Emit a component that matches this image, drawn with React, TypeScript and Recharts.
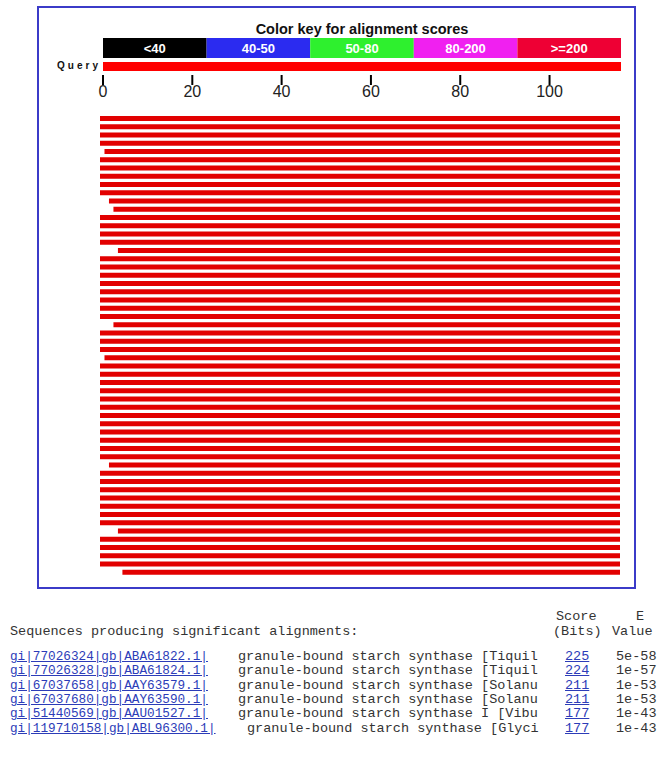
import { Bar, BarChart, LabelList, XAxis, YAxis } from 'recharts'

// color key
const keyLabels = ['<40', '40-50', '50-80', '80-200', '>=200']
const keyColors = ['#000000', '#2b2bf0', '#2ef02e', '#f020f0', '#ee0034']
const keyWidths = [1, 1, 1, 1, 1]

// query axis
const queryLabel = 'Query'
const queryLength = 116
const axisTicks = [0, 20, 40, 60, 80, 100]

// hit rows, top to bottom: start / end on the query
const hitStarts = [
  0, 0, 0, 0, 1, 0, 0, 0, 0, 0, 2, 3, 0, 0, 0, 0, 4, 0, 0, 0,
  0, 0, 0, 0, 0, 3, 0, 0, 0, 1, 0, 0, 0, 0, 0, 0, 0, 0, 0, 0,
  0, 0, 2, 0, 0, 0, 0, 0, 0, 0, 4, 0, 0, 0, 0, 5,
]
const hitEnds = [
  116, 116, 116, 116, 116, 116, 116, 116, 116, 116, 116, 116, 116, 116, 116, 116, 116, 116, 116, 116,
  116, 116, 116, 116, 116, 116, 116, 116, 116, 116, 116, 116, 116, 116, 116, 116, 116, 116, 116, 116,
  116, 116, 116, 116, 116, 116, 116, 116, 116, 116, 116, 116, 116, 116, 116, 116,
]

// table below the graphic
const seqIds = [
  'gi|77026324|gb|ABA61822.1|',
  'gi|77026328|gb|ABA61824.1|',
  'gi|67037658|gb|AAY63579.1|',
  'gi|67037680|gb|AAY63590.1|',
  'gi|51440569|gb|AAU01527.1|',
  'gi|119710158|gb|ABL96300.1|',
]
const seqDescs = [
  'granule-bound starch synthase [Tiquil',
  'granule-bound starch synthase [Tiquil',
  'granule-bound starch synthase [Solanu',
  'granule-bound starch synthase [Solanu',
  'granule-bound starch synthase I [Vibu',
  'granule-bound starch synthase [Glyci',
]
const seqScores = ['225', '224', '211', '211', '177', '177']
const seqEvalues = ['5e-58', '1e-57', '1e-53', '1e-53', '1e-43', '1e-43']

const sans = '"Liberation Sans", Arial, sans-serif'
const mono = '"Liberation Mono", "Courier New", monospace'
const linkColor = '#2c3cb8'

const keyRow = [Object.fromEntries([['name', 'key'], ...keyWidths.map((w, i) => ['k' + i, w])])]
const queryRow = [{ name: queryLabel, len: queryLength }]
const hitRows = hitStarts.map((s, i) => ({ rank: i + 1, range: [s, hitEnds[i]] }))

export default function App() {
  const rowY = (i: number) => 650 + i * 14.3
  return (
    <div style={{ position: 'absolute', left: 0, top: 0, width: 657, height: 757, background: '#fff', overflow: 'hidden' }}>
      <div
        style={{
          position: 'absolute',
          left: 37,
          top: 6,
          width: 595,
          height: 579,
          border: '2px solid #3b3bc8',
        }}
      />

      <div
        style={{
          position: 'absolute',
          left: 103,
          top: 21,
          width: 518,
          textAlign: 'center',
          fontFamily: sans,
          fontWeight: 'bold',
          fontSize: 14.5,
          color: '#111',
        }}
      >
        Color key for alignment scores
      </div>

      <div style={{ position: 'absolute', left: 103, top: 38 }}>
        <BarChart width={518} height={20} data={keyRow} layout="vertical" margin={{ top: 0, right: 0, bottom: 0, left: 0 }} barCategoryGap={0}>
          <XAxis type="number" domain={[0, 5]} hide />
          <YAxis type="category" dataKey="name" hide />
          {keyLabels.map((label, i) => (
            <Bar key={label} dataKey={'k' + i} stackId="key" fill={keyColors[i]} isAnimationActive={false}>
              <LabelList
                dataKey={'k' + i}
                content={(p: any) => (
                  <text
                    x={Number(p.x) + Number(p.width) / 2}
                    y={Number(p.y) + Number(p.height) / 2}
                    dy={4.5}
                    textAnchor="middle"
                    fontFamily={sans}
                    fontSize={13}
                    fontWeight="bold"
                    fill="#fff"
                  >
                    {label}
                  </text>
                )}
              />
            </Bar>
          ))}
        </BarChart>
      </div>

      <div
        style={{
          position: 'absolute',
          left: 30,
          top: 60,
          width: 71,
          textAlign: 'right',
          fontFamily: sans,
          fontSize: 10,
          fontWeight: 'bold',
          letterSpacing: 3,
          color: '#111',
        }}
      >
        {queryLabel}
      </div>

      <div style={{ position: 'absolute', left: 88, top: 58 }}>
        <BarChart width={538} height={47} data={queryRow} layout="vertical" margin={{ top: 0, right: 5, bottom: 0, left: 15 }}>
          <XAxis
            type="number"
            domain={[0, queryLength]}
            ticks={axisTicks}
            interval={0}
            axisLine={false}
            tickSize={10}
            tickMargin={1}
            tickLine={{ stroke: '#000', strokeWidth: 2 }}
            height={30}
            tick={{ fontSize: 16, fontFamily: sans, fill: '#222' }}
          />
          <YAxis type="category" dataKey="name" hide />
          <Bar dataKey="len" fill="#ff0000" barSize={9} isAnimationActive={false} />
        </BarChart>
      </div>

      <div style={{ position: 'absolute', left: 100, top: 113.6 }}>
        <BarChart width={520} height={462} data={hitRows} layout="vertical" margin={{ top: 0, right: 0, bottom: 0, left: 0 }}>
          <XAxis type="number" domain={[0, queryLength]} hide />
          <YAxis type="category" dataKey="rank" hide />
          <Bar dataKey="range" fill="#e20000" barSize={5} isAnimationActive={false} />
        </BarChart>
      </div>

      <div style={{ position: 'absolute', left: 0, top: 0, fontFamily: mono, fontSize: 13.5, color: '#333', whiteSpace: 'pre', lineHeight: '14px' }}>
        <div style={{ position: 'absolute', left: 556, top: 610 }}>Score</div>
        <div style={{ position: 'absolute', left: 636, top: 610 }}>E</div>
        <div style={{ position: 'absolute', left: 10, top: 625 }}>Sequences producing significant alignments:</div>
        <div style={{ position: 'absolute', left: 553, top: 625 }}>(Bits)</div>
        <div style={{ position: 'absolute', left: 612, top: 625 }}>Value</div>
        {seqIds.map((id, i) => (
          <div key={id}>
            <div style={{ position: 'absolute', left: 10, top: rowY(i), fontSize: 12.7, color: linkColor, textDecoration: 'underline' }}>{id}</div>
            <div style={{ position: 'absolute', left: i === 5 ? 247 : 238, top: rowY(i) }}>{seqDescs[i]}</div>
            <div style={{ position: 'absolute', left: 565, top: rowY(i), color: linkColor, textDecoration: 'underline' }}>{seqScores[i]}</div>
            <div style={{ position: 'absolute', left: 616, top: rowY(i) }}>{seqEvalues[i]}</div>
          </div>
        ))}
      </div>
    </div>
  )
}
